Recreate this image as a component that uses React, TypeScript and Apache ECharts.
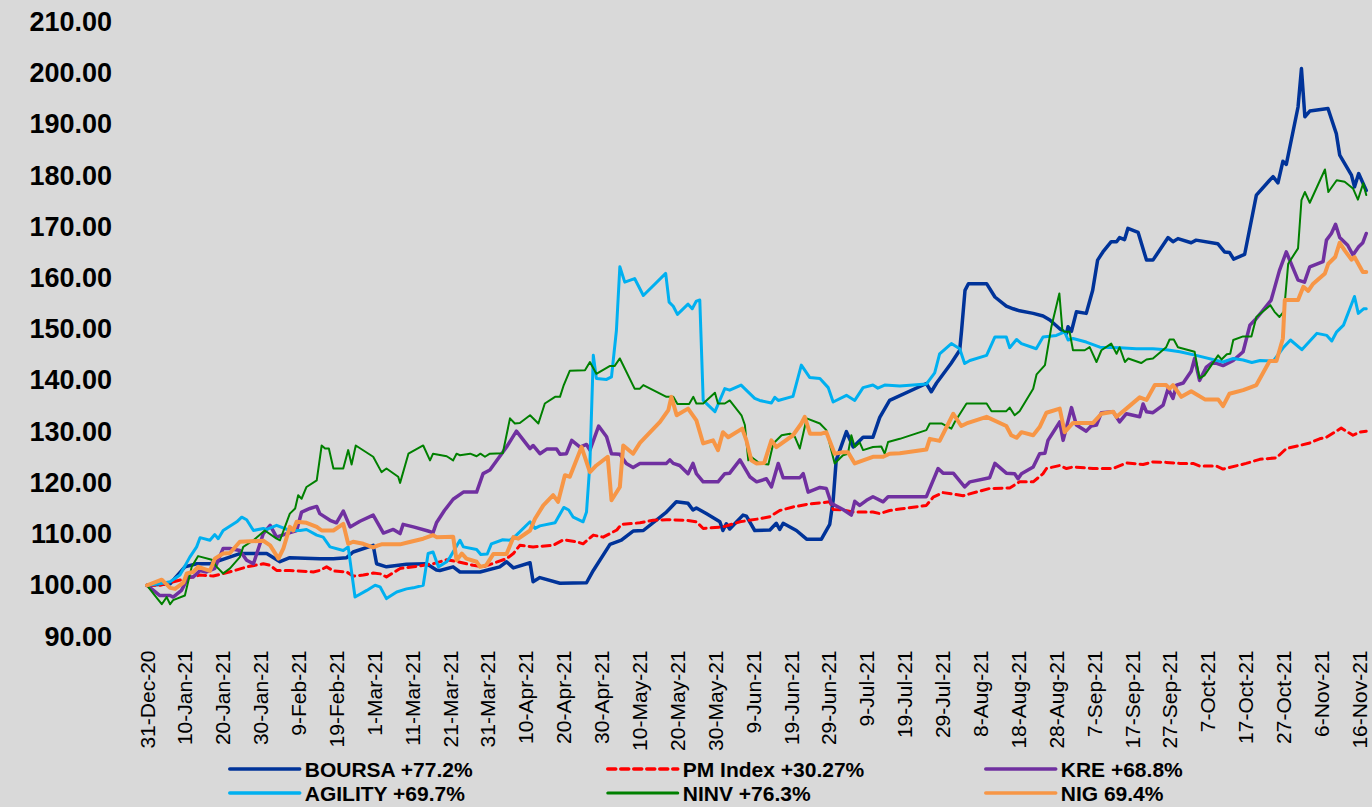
import React, { useEffect, useRef } from 'react';
import * as echarts from 'echarts';

// Day offsets from 31-Dec-20 on the x axis; labels every 10 days
const tickLabels = [
  '31-Dec-20', '10-Jan-21', '20-Jan-21', '30-Jan-21', '9-Feb-21', '19-Feb-21', '1-Mar-21',
  '11-Mar-21', '21-Mar-21', '31-Mar-21', '10-Apr-21', '20-Apr-21', '30-Apr-21', '10-May-21',
  '20-May-21', '30-May-21', '9-Jun-21', '19-Jun-21', '29-Jun-21', '9-Jul-21', '19-Jul-21',
  '29-Jul-21', '8-Aug-21', '18-Aug-21', '28-Aug-21', '7-Sep-21', '17-Sep-21', '27-Sep-21',
  '7-Oct-21', '17-Oct-21', '27-Oct-21', '6-Nov-21', '16-Nov-21',
];

const seriesNames = [
  'BOURSA +77.2%', 'PM Index +30.27%', 'KRE +68.8%', 'AGILITY +69.7%', 'NINV +76.3%', 'NIG 69.4%',
];

type P = [number, number];

const boursa: P[] = [
  [0, 100], [6.1, 100.3], [10, 103.6], [13.1, 104.2], [16.6, 104.2], [24.5, 106.2], [31.6, 106.2],
  [35.1, 104.6], [37.7, 105.4], [45.6, 105.2], [49.2, 105.2], [52.7, 105.4], [54.4, 106.5],
  [59.7, 107.8], [60.6, 104.2], [63.2, 103.6], [68.5, 104.1], [73.8, 104.2], [76.4, 103],
  [77.3, 102.9], [80.8, 103.6], [82.6, 102.6], [87.9, 102.6], [93.1, 103.6], [94.9, 104.6],
  [96.7, 103.4], [101.1, 104.4], [101.9, 100.7], [103.7, 101.5], [109, 100.4], [116, 100.5],
  [117.8, 102.9], [122.2, 108.0], [125.2, 108.8], [128.3, 110.6], [131, 110.7], [137.1, 114.3],
  [139.7, 116.3], [142.8, 116], [144.1, 114.7], [145, 115.1], [147.6, 114], [151.2, 112.4],
  [152, 110.7], [152.9, 112], [153.8, 111], [157.3, 113.7], [158.2, 113.5], [160.4, 110.7],
  [164.4, 110.8], [166.1, 112.1], [167, 110.9], [167.9, 112.1], [171.4, 110.7], [174.1, 109.0],
  [178, 109.0], [180.2, 111.9], [181.1, 116.6], [181.9, 124.4], [184.6, 130], [186.4, 127],
  [189, 128.9], [191.6, 128.9], [193.4, 132.8], [196, 136.1], [205.7, 139.4], [207, 137.8],
  [208.4, 139.5], [212.2, 143.3], [214.5, 145.9], [215, 149.8], [215.9, 157.6], [216.8, 158.9],
  [221.6, 158.9], [223.8, 156.3], [226.8, 154.5], [228.6, 154], [230.3, 153.6], [233.9, 153.1],
  [236.5, 152.6], [238.3, 151.8], [240.9, 150.1], [242.7, 149.2], [243.1, 150.5], [244, 149.6],
  [245.3, 153.4], [247.9, 153.1], [249.6, 157.6], [250.9, 163.5], [252.3, 165.1], [254.5, 167.1],
  [255.9, 167.1], [256.7, 167.9], [258, 167.5], [258.9, 169.7], [261.6, 168.9], [263.8, 163.5],
  [265.5, 163.5], [269.5, 167.9], [270.8, 167.1], [272.1, 167.7], [275.6, 166.9], [276.9, 167.4],
  [282.6, 166.7], [284.4, 165.1], [285.7, 165], [286.8, 163.7], [289.7, 164.6], [292.8, 176.2],
  [296.3, 179.1], [297.2, 179.8], [298.5, 178.6], [299.8, 182.8], [300.7, 182.2], [303.8, 193.4],
  [304.7, 200.9], [305.6, 191.5], [306.9, 192.6], [311.7, 193.1], [313.9, 188.2], [314.8, 184],
  [317.9, 180.1], [318.7, 177.8], [319.8, 180.4], [321.8, 177.1],
];

const pmIndex: P[] = [
  [0, 100], [3.4, 100], [14, 102], [17.5, 101.8], [20.1, 102.3], [22.8, 102.8], [26.3, 103.6],
  [30.7, 104.2], [32.5, 103.9], [34.2, 102.9], [37.7, 102.9], [43.9, 102.6], [45.6, 102.9],
  [47.4, 103.6], [49.2, 102.8], [52.7, 102.6], [54.4, 101.8], [57.1, 102], [59.7, 102.4],
  [61.9, 102.2], [63.2, 101.6], [66.8, 103.3], [71.2, 103.7], [75.5, 104.2], [79.1, 105],
  [82.6, 104.5], [86.1, 103.9], [88.7, 103.6], [94.9, 105.2], [96.7, 106.2], [98.4, 107.8],
  [101.9, 107.5], [107.2, 107.8], [109.9, 108.9], [113.4, 108.5], [115.1, 108.1], [117.8, 109.8],
  [120.4, 109.4], [124, 110.8], [125.2, 111.9], [130.1, 112.2], [133.6, 112.7], [137.1, 112.8],
  [142.4, 112.7], [145, 112.4], [146.8, 111.1], [152, 111.4], [156.5, 112.4], [161.7, 113],
  [164.4, 113.4], [167, 114.6], [170.5, 115.3], [174.1, 115.8], [177.6, 116.1], [180.2, 116.3],
  [181.1, 114.8], [183.7, 114.7], [186.4, 114.3], [191.6, 114.3], [193.4, 114], [196, 114.6],
  [198.7, 114.9], [205.7, 115.6], [207.5, 117.2], [210.1, 118.1], [215.4, 117.5], [222.4, 118.9],
  [227.7, 119], [230.3, 120.2], [233.9, 120.2], [236.5, 121.8], [237.4, 122.8], [240.9, 123.4],
  [242.7, 122.8], [244.4, 123.1], [249.7, 122.8], [255, 122.8], [258.5, 123.9], [262.9, 123.6],
  [265.5, 124.1], [269, 124], [272.6, 123.8], [276.1, 123.8], [277.8, 123.3], [282.2, 123.3],
  [284, 122.7], [290.1, 123.8], [293.7, 124.6], [298.1, 124.9], [300.7, 126.7], [304.2, 127.3],
  [306.9, 127.8], [309.5, 128.6], [311.3, 128.9], [315.2, 130.7], [318.3, 129.3], [320, 129.9],
  [321.8, 130.1],
];

const kre: P[] = [
  [0, 100], [1.7, 99], [3.4, 98], [6.1, 98], [6.9, 97.7], [9.1, 99], [10.9, 101.6], [12.2, 101.6],
  [14, 102.9], [15.7, 102.6], [17.9, 103.3], [20.1, 107.2], [21.9, 107.2], [24.5, 106.8],
  [26.3, 104.9], [28.1, 104.2], [30.7, 110.1], [32.5, 111.7], [34.2, 109.4], [36.9, 110.1],
  [39.5, 110.7], [40.8, 114.3], [43, 115], [44.8, 115.4], [45.6, 114], [48.3, 112.7], [50, 112.2],
  [51.8, 114.5], [53.6, 111.4], [56.2, 112.5], [59.7, 113.7], [62.4, 110.2], [65, 110.9],
  [66.8, 110.1], [67.6, 111.9], [70.3, 111.4], [74.2, 110.6], [75.5, 110.3], [76.4, 112.2],
  [78.5, 114.6], [80.8, 116.8], [83.5, 118.2], [87, 118.2], [88.7, 121.8], [90.5, 122.5],
  [94.9, 127], [97.5, 130.1], [101.1, 126.7], [101.9, 127.3], [103.7, 125.7], [105.5, 126.6],
  [108.1, 126.6], [109, 125.6], [110.7, 125.7], [112.1, 128.3], [114.3, 127], [116, 127.5],
  [116.9, 126.4], [119.2, 131.1], [121.3, 129], [122.6, 125.7], [124.8, 125.6], [126.5, 123.8],
  [128.3, 123], [130.1, 123.8], [137.1, 123.8], [138, 124.5], [138.9, 123.8], [140.6, 123.4],
  [142.8, 121.8], [144.1, 123.8], [145, 121.8], [146.8, 120.2], [150.7, 120.2], [152.5, 121.8],
  [153.8, 121.9], [156.5, 124.5], [159.1, 121.2], [160.9, 120.2], [163.5, 120.8], [164.8, 119.2],
  [166.6, 123.8], [167.9, 121], [172.3, 121], [173.2, 121.8], [174.5, 118.2], [177.6, 119.1],
  [179.3, 118.9], [180.6, 116], [183.7, 114.8], [185.9, 113.7], [186.8, 116.4], [188.1, 115.6],
  [189.9, 116.6], [191.6, 117.3], [194.3, 116.3], [195.6, 117.3], [198.7, 117.3], [205.7, 117.3],
  [208.8, 122.8], [210.1, 121.9], [212.8, 121.9], [215.8, 119.2], [217.2, 120.2], [222.4, 121],
  [223.8, 123.8], [226.8, 121.9], [229, 121.8], [229.9, 120.8], [230.8, 121.8], [233.9, 123.1],
  [235.6, 125.7], [237, 125.8], [237.8, 128.3], [240.9, 131.9], [241.8, 128.3], [244, 134.7],
  [245.3, 131.3], [247.9, 130.1], [249.2, 131.1], [250.6, 131.3], [251.9, 133.7], [255, 133.9],
  [256.7, 131.9], [258.5, 133.5], [262, 132.9], [262.9, 135.4], [263.8, 133.9], [265.5, 133.7],
  [268.2, 135.2], [269.5, 138.4], [270.8, 136.5], [271.7, 139.1], [273.5, 139.5], [275.6, 141.8],
  [276.5, 144.3], [277.8, 140], [279.6, 142.6], [281.4, 143.6], [284, 142.9], [286.7, 143.9],
  [289.3, 145.6], [291.1, 150.8], [292.8, 152.1], [296.7, 155.7], [298.9, 161.5], [300.7, 165.1],
  [303.8, 159.6], [305.5, 159.2], [306.9, 162.2], [310.4, 163.2], [311.3, 167.4], [312.6, 168.7],
  [313.7, 170.5], [314.8, 167.9], [316.9, 166.4], [318.3, 164.5], [319.8, 166.1], [320.9, 166.9],
  [321.8, 168.7],
];

const agility: P[] = [
  [0, 100], [3.4, 100.3], [6.1, 100.7], [8.7, 102], [11.3, 105.5], [13.1, 107.5], [14, 109.3],
  [16.6, 108.8], [17.9, 109.9], [18.8, 109.1], [20.1, 110.7], [23.7, 112.4], [25, 113.3],
  [26.3, 112.8], [28.1, 110.7], [30.7, 111.1], [31.6, 110.9], [34.2, 111.7], [37.7, 110.7],
  [40.4, 110.7], [42.1, 110.9], [44.8, 109.8], [46.5, 109.4], [48.3, 107.5], [51.8, 106.8],
  [53.1, 107.5], [54.9, 97.7], [58, 99], [60.2, 100], [61.5, 99.7], [63.2, 97.4], [65.9, 98.7],
  [68.5, 99.3], [70.3, 99.5], [72.9, 100], [74.2, 106.2], [75.5, 106.5], [76.9, 103.6],
  [79.1, 104.6], [80, 105.5], [82.6, 108.8], [83.5, 107.5], [87, 107], [88.1, 106], [89.8, 106.1],
  [90.9, 108.1], [93.9, 108.9], [95.8, 108.8], [97.5, 109.8], [101.1, 112.4], [102.4, 111.1],
  [103.7, 111.6], [107.7, 112.2], [110, 115.2], [111.3, 114.7], [112.5, 113.3], [115.1, 112.4],
  [116, 114.3], [116.9, 123.8], [117.8, 144.9], [118.6, 140.4], [121.3, 140.2], [122.6, 140.7],
  [123.9, 149.8], [124.8, 162.2], [126.1, 159.2], [128.7, 159.9], [131, 156.6], [136.9, 160.9],
  [137.8, 155.3], [138.9, 154.5], [140, 152.9], [142.8, 154.9], [143.9, 154], [145, 155.5],
  [145.9, 155.7], [146.8, 136.1], [149.9, 133.9], [152.5, 138.4], [153.8, 138.1], [156.8, 139.1],
  [160.4, 136.5], [161.7, 136.1], [164.8, 135.6], [165.7, 136.7], [166.6, 136.1], [170.5, 136.9],
  [172.7, 143], [174.9, 140.6], [177.6, 140.4], [179.8, 138.6], [181.1, 135.8], [184.6, 137.1],
  [186.8, 136.1], [189, 138.6], [191.6, 139.1], [192.9, 138.5], [194.7, 139.1], [198.7, 138.9],
  [205.7, 139.3], [207.9, 141.5], [209.2, 145.2], [212.3, 147.2], [214.5, 146.2], [215.8, 143.3],
  [217.2, 143.9], [221.6, 144.9], [223.8, 148.5], [226.8, 148.5], [227.7, 146.4], [229.5, 148],
  [230.8, 147.2], [234.7, 146.2], [236.5, 148.5], [240, 148.8], [242.2, 149.5], [243.1, 147.9],
  [244.4, 148.2], [247.9, 147.5], [251.5, 146.5], [256.7, 146.4], [261.1, 146.2], [265.5, 146.2],
  [269, 146], [272.6, 145.6], [276.9, 144.9], [284, 143.6], [286.7, 144.3], [289.3, 144],
  [291.6, 143.5], [293.8, 143.9], [297.3, 143.8], [300, 146.5], [301.8, 147.9], [304.8, 146],
  [308.8, 149.2], [311.4, 148.8], [312.7, 147.7], [314, 149.5], [315.8, 150.8], [318.7, 156.4],
  [319.7, 153.1], [321.1, 154], [321.8, 154],
];

const ninv: P[] = [
  [0, 100], [2.1, 98], [3.9, 96.3], [5.2, 97.7], [6.1, 96.3], [6.9, 97.1], [10, 98], [11.8, 103.6],
  [13.5, 105.7], [17.1, 105], [18.4, 103.6], [20.1, 102.3], [21.9, 103.3], [24.5, 105.5],
  [25.4, 107.5], [28.1, 108.8], [31.1, 110.7], [34.2, 109.1], [35.1, 108.8], [37.7, 114],
  [39.1, 115], [39.9, 117.6], [40.8, 116.9], [42.1, 119.2], [44.8, 120.5], [46.1, 127.3],
  [47, 126.7], [48, 126.7], [49.2, 122.8], [51.8, 122.8], [53.1, 126.4], [54, 123.6], [55.1, 127.3],
  [59.7, 125.1], [61.9, 122.1], [63.2, 122.8], [66.3, 121.2], [66.8, 120], [69, 125.7],
  [72.9, 127.3], [74.7, 124.4], [75.5, 125.7], [79.1, 125.2], [80.8, 124.4], [81.7, 125.7],
  [82.6, 125.4], [85.3, 125.7], [87, 125.2], [88, 125.7], [89.2, 125.1], [90.5, 125.7],
  [93.9, 125.8], [95.8, 132.6], [97.1, 131.6], [98.4, 131.7], [101.1, 133.2], [103.3, 131.6],
  [105, 135.5], [107.7, 136.8], [109, 136.8], [110, 139.1], [111.6, 141.9], [115.6, 142],
  [116.9, 143.6], [118.6, 141.3], [122.1, 142.8], [123.4, 142.8], [124.8, 144.3], [128.7, 138.4],
  [130.1, 138.4], [131, 139.1], [137.1, 136.8], [138.9, 136.8], [140, 135.4], [143.1, 135.4],
  [144.2, 136.8], [145, 135.5], [146.8, 135.5], [149.9, 137.6], [150.7, 135.5], [152.5, 135.5],
  [153.8, 136.1], [156.9, 133.2], [157.8, 131.3], [158.7, 124.4], [159.6, 125], [161.7, 123.8],
  [164, 123.6], [165.3, 127.7], [167.5, 129.3], [169.7, 129.6], [171, 129], [172.3, 126.7],
  [173.2, 129.6], [174.1, 132.6], [177.6, 131.6], [179.3, 130.3], [180.6, 126.4], [181.5, 123.8],
  [183.7, 125.4], [185, 125.7], [185.9, 129.3], [186.8, 127], [188.1, 127.9], [189, 126.4],
  [191.6, 127], [193.8, 127.1], [194.7, 125.7], [195.6, 128], [198.7, 128.6], [205.7, 130.3],
  [206.6, 131.6], [209.7, 131.6], [212.3, 130.6], [213.2, 131.9], [216.3, 135.5], [221.6, 135.5],
  [222.9, 134], [226.8, 134], [227.7, 134.7], [229, 133.2], [230.3, 134], [233.9, 138.4],
  [234.8, 141.2], [237, 143], [238.7, 150.5], [240.8, 157], [241.6, 149.8], [242.2, 149.5],
  [243.5, 149.5], [244.4, 145.9], [247.5, 145.9], [248.8, 146.5], [250.6, 143.6], [251.9, 145.9],
  [254.5, 147.2], [255.9, 145.2], [256.7, 146.5], [258.1, 143.6], [259, 144.3], [262.4, 143.4],
  [263.8, 144.1], [265.5, 144.3], [269, 146.5], [269.9, 148], [271, 148], [272.1, 146.5],
  [276.5, 145.6], [277.8, 140.4], [279.1, 141], [282.7, 144.9], [283.6, 144.1], [285, 145.1],
  [285.9, 145.2], [286.7, 147.9], [289.3, 148.6], [291.5, 148.6], [292.8, 152.4], [296.5, 154.7],
  [297.6, 153.4], [298.9, 152.4], [300.1, 153.5], [301.2, 162.8], [303.8, 165.8], [304.7, 175.2],
  [305.6, 176.8], [306.9, 174.7], [310.9, 181.2], [311.8, 176.8], [314, 179.1], [316.1, 178.8],
  [318.3, 177.5], [319.6, 175.3], [321, 178.5], [321.8, 176.2],
];

const nig: P[] = [
  [0, 100], [3.9, 101.1], [6.1, 99.5], [7.4, 99.3], [9.6, 100.5], [10.5, 102.3], [12.2, 102.6],
  [13.5, 103.6], [16.6, 102.8], [17.9, 105.2], [20.1, 106.2], [21.9, 106.3], [24.5, 108.5],
  [30.7, 108.7], [32.5, 107.8], [34.7, 105.2], [36, 107.2], [37.7, 111.4], [38.6, 110.7],
  [39.5, 112.4], [42.1, 112.2], [44.8, 111.4], [46.1, 110.7], [49.2, 110.7], [51.8, 112],
  [53.1, 108.1], [54.4, 108.5], [57.1, 108.1], [59.7, 107.4], [61, 107.8], [61.9, 108],
  [66.8, 108], [68.5, 108.3], [72.9, 109.1], [75.5, 109.8], [76.4, 109.4], [80.8, 109.5],
  [81.7, 104.9], [83.1, 106.2], [84.3, 105.2], [87, 104.6], [87.9, 103.6], [89.5, 103.9],
  [91.4, 106.1], [94.9, 106.1], [96.7, 109.4], [98, 109.1], [101.1, 110.7], [102.4, 113],
  [104.6, 115.6], [107.2, 117.6], [108.5, 116.3], [110.3, 121.5], [111.6, 121.2], [114.7, 127],
  [116.9, 122.1], [118.6, 123.4], [121.6, 125.1], [122.6, 116.6], [124.8, 119.2], [125.7, 127.3],
  [128.3, 125.7], [130.1, 127.8], [135.4, 131.9], [137.6, 134.2], [138.4, 136.8], [139.8, 133.2],
  [142.8, 134.5], [145, 132.2], [146.8, 127.7], [149.4, 128.3], [150.7, 126.4], [152, 129.9],
  [153.4, 128.9], [157.1, 130.6], [158.2, 128.3], [159.5, 124.4], [160.8, 123.8], [162.9, 123.9],
  [164.8, 128.3], [166.1, 127], [170.5, 129.3], [172.7, 131.6], [173.6, 132.9], [175, 129.6],
  [178, 129.6], [179.3, 129.9], [181.5, 125.7], [183.7, 126], [185, 126], [186.8, 123.8],
  [189, 124.4], [191.6, 125.1], [194.3, 125.1], [196, 125.7], [198.7, 125.8], [205.7, 126.5],
  [206.6, 128.6], [209.2, 128.2], [212.8, 133.5], [214.9, 131.1], [216.3, 131.6], [221.6, 132.9],
  [226.8, 131.1], [228.1, 129.3], [229.5, 128.8], [230.8, 129.9], [233.9, 129.3], [235.6, 130.9],
  [237.4, 133.7], [240.9, 134.5], [242.2, 129.9], [244.4, 131.7], [249.7, 131.7], [251.9, 133.5],
  [255, 133.9], [255.9, 132.9], [258.5, 134.5], [262, 136.7], [263.8, 136.2], [266, 139.1],
  [269, 139.1], [269.9, 138.4], [270.8, 139.1], [273, 136.8], [275.6, 137.9], [279.2, 136.3],
  [282.7, 136.3], [284, 135], [285.7, 137.4], [289.3, 138.1], [291.1, 138.6], [292.8, 139.1],
  [296.3, 143.8], [298.1, 143.8], [299.8, 148.2], [300.3, 155.7], [303.8, 155.7], [305.2, 158.3],
  [306.5, 157.5], [307.8, 158.9], [310.9, 160.9], [311.8, 162.8], [313.6, 164.1], [314.8, 166.9],
  [316.1, 165.4], [317.9, 163.6], [318.7, 164.1], [320.9, 161.2], [321.8, 161.2],
];

const seriesData = [boursa, pmIndex, kre, agility, ninv, nig];
const colors = ['#003399', '#ff0000', '#7030a0', '#00b0f0', '#008000', '#f79646'];
const widths = [3.5, 3, 3.5, 3, 2, 4];

export default function App() {
  const ref = useRef<HTMLDivElement>(null);

  useEffect(() => {
    if (!ref.current) return;
    const chart = echarts.init(ref.current, null, { renderer: 'svg' });
    const legendText = {
      fontFamily: "'Liberation Sans', Arial, sans-serif",
      fontWeight: 'bold' as const,
      fontSize: 21,
      color: '#000',
      lineHeight: 22,
    };
    const legendItem = (i: number) => ({
      name: seriesNames[i],
      itemStyle: { opacity: 0 },
      lineStyle: { width: i === 4 ? 3 : 3.5, opacity: 1 },
    });
    const mkLegend = (left: number, a: number, b: number) => ({
      orient: 'vertical',
      left,
      top: 758,
      itemWidth: 70,
      itemHeight: 14,
      itemGap: 2,
      padding: 0,
      selectedMode: false,
      textStyle: legendText,
      data: [legendItem(a), legendItem(b)],
    });

    chart.setOption({
      animation: false,
      backgroundColor: '#d9d9d9',
      grid: { left: 147, right: 5, top: 22, bottom: 170.5, containLabel: false },
      xAxis: {
        type: 'value',
        min: 0,
        max: 322,
        interval: 10,
        axisLine: { show: false },
        axisTick: { show: false },
        splitLine: { show: false },
        axisLabel: {
          rotate: 90,
          margin: 14,
          showMaxLabel: false,
          fontFamily: "'Liberation Sans', Arial, sans-serif",
          fontSize: 21,
          color: '#000',
          formatter: (v: number) => {
            const i = Math.round(v / 10);
            return Math.abs(v - i * 10) < 1e-6 && tickLabels[i] ? tickLabels[i] : '';
          },
        },
      },
      yAxis: {
        type: 'value',
        min: 90,
        max: 210,
        interval: 10,
        axisLine: { show: false },
        axisTick: { show: false },
        splitLine: { show: false },
        axisLabel: {
          margin: 35,
          fontFamily: "'Liberation Sans', Arial, sans-serif",
          fontWeight: 'bold',
          fontSize: 27,
          color: '#000',
          formatter: (v: number) => v.toFixed(2),
        },
      },
      legend: [mkLegend(228, 0, 3), mkLegend(606, 1, 4), mkLegend(984, 2, 5)],
      series: seriesData.map((d, i) => ({
        name: seriesNames[i],
        type: 'line',
        data: d,
        symbol: 'none',
        smooth: false,
        clip: true,
        color: colors[i],
        lineStyle: {
          color: colors[i],
          width: widths[i],
          type: i === 1 ? [8, 5] : 'solid',
          join: 'round',
          cap: 'round',
        },
      })),
    });
    return () => chart.dispose();
  }, []);

  return (
    <div
      ref={ref}
      style={{ position: 'fixed', left: 0, top: 0, width: 1372, height: 807, background: '#d9d9d9' }}
    />
  );
}
